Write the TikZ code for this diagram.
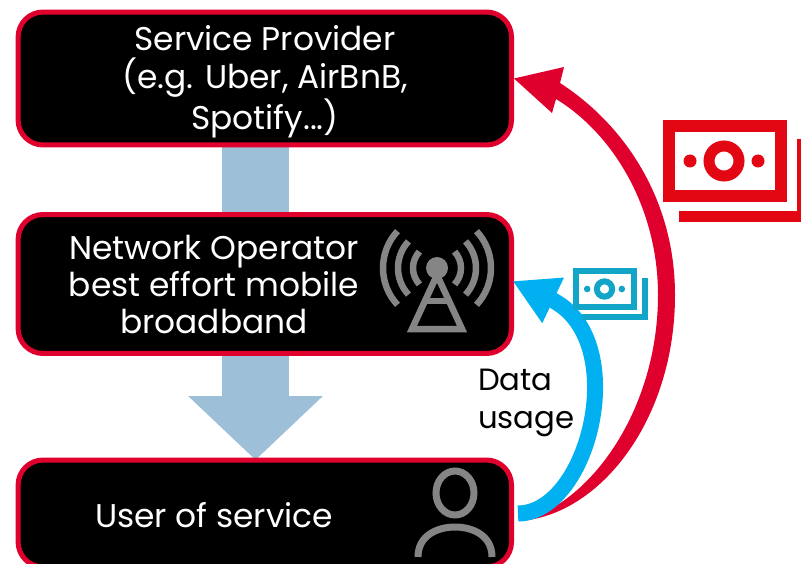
\documentclass[tikz,border=0pt]{standalone}
\usepackage{fontspec}
\setmainfont{Poppins}
\usetikzlibrary{arrows.meta,backgrounds}

\definecolor{boxred}{HTML}{E0002D}
\definecolor{notered}{HTML}{E30613}
\definecolor{shaftblue}{HTML}{9DBFD8}
\definecolor{usageblue}{HTML}{00B0F0}
\definecolor{noteblue}{HTML}{12A5C7}
\definecolor{icongrey}{HTML}{858585}

\tikzset{
  layerbox/.style={draw=boxred,fill=black,line width=0.1cm,rounded corners=0.5cm,minimum width=9.87cm},
  boxtext/.style={text=white,align=center,font=\fontsize{18.7}{21.3}\selectfont},
  icon/.style={draw=icongrey,line width=0.13cm}
}

% #1 centre, #2 scale, #3 colour, #4 note line, #5 ring line
\newcommand{\banknote}[5]{
\begin{scope}[shift={#1},scale=#2]
\draw[#3,line width=#4] (-55,-35) rectangle (57,35);
\draw[#3,line width=#4] (-45,55.5) -- (79,55.5) -- (79,-22);
\draw[#3,line width=#5] (0,0) circle (15);
\fill[#3] (-34,0) circle (6.5) (34,0) circle (6.5);
\end{scope}
}

\begin{document}
\begin{tikzpicture}[x=0.02cm,y=-0.02cm]

\path[use as bounding box,clip] (0,0) rectangle (801,564);

\node [layerbox,minimum height=2.66cm] (provider) at (264.8,78.5) {};
\node [layerbox,minimum height=2.78cm] (operator) at (264.8,284) {};
\node [layerbox,minimum height=2.14cm] (user) at (264.8,513.5) {};

\node [boxtext] (providertext) at (265,82) {Service Provider\\(e.g. Uber, AirBnB,\\Spotify...)};
\node [boxtext] (operatortext) at (214,284.5) {Network Operator\\best effort mobile\\broadband};
\node [boxtext] (usertext) at (214,515) {User of service};

\begin{scope}[on background layer]
\draw[shaftblue,line width=1.34cm] ([xshift=-0.186cm]provider.south) -- ([xshift=-0.186cm]operator.north);
\draw[shaftblue,line width=1.34cm,-{Triangle[length=1.28cm,width=2.62cm]}] ([xshift=-0.186cm]operator.south) -- ([xshift=-0.186cm,yshift=-0.05cm]user.north);
\end{scope}

% antenna
\fill[icongrey] (437,268) circle (11);
\foreach \r in {24,39,54} {
  \draw[icon] (437,268) ++(-43:\r) arc (-43:43:\r);
  \draw[icon] (437,268) ++(137:\r) arc (137:223:\r);
}
\draw[icon,line join=miter] (437,275) -- (412,329) -- (462,329) -- cycle;
\draw[icon] (425,301) -- (449,301);

% person
\draw[icon,line width=0.14cm] (455,493) ellipse (19 and 22);
\draw[icon,line width=0.14cm] (418,557) .. controls (418,535) and (438,527) .. (455,527) .. controls (472,527) and (492,535) .. (492,557);

% red arrow
\coordinate (redstart) at (520,521);
\fill[boxred] (redstart) .. controls (600,515) and (675,420) .. (675,295)
  .. controls (675,200) and (625,125) .. (560,83)
  -- (564,67) -- (provider.east) -- (552,113) -- (556,99)
  .. controls (615,135) and (658,210) .. (658,295)
  .. controls (658,410) and (590,505) .. (redstart) -- cycle;

% blue arrow
\draw[usageblue,line width=0.32cm,-{Triangle[length=0.9cm,width=0.94cm]}] ([xshift=0.08cm]user.east) .. controls (590,513) and (632,338) .. ([xshift=-0.03cm,yshift=0.06cm]operator.east);

\banknote{(724,161)}{1}{notered}{0.23cm}{0.22cm}
\banknote{(604.5,289)}{0.51}{noteblue}{0.12cm}{0.12cm}

\node [align=left,anchor=west,font=\fontsize{17.5}{21.3}\selectfont] (datausage) at (472,403) {Data\\usage};

\end{tikzpicture}
\end{document}
